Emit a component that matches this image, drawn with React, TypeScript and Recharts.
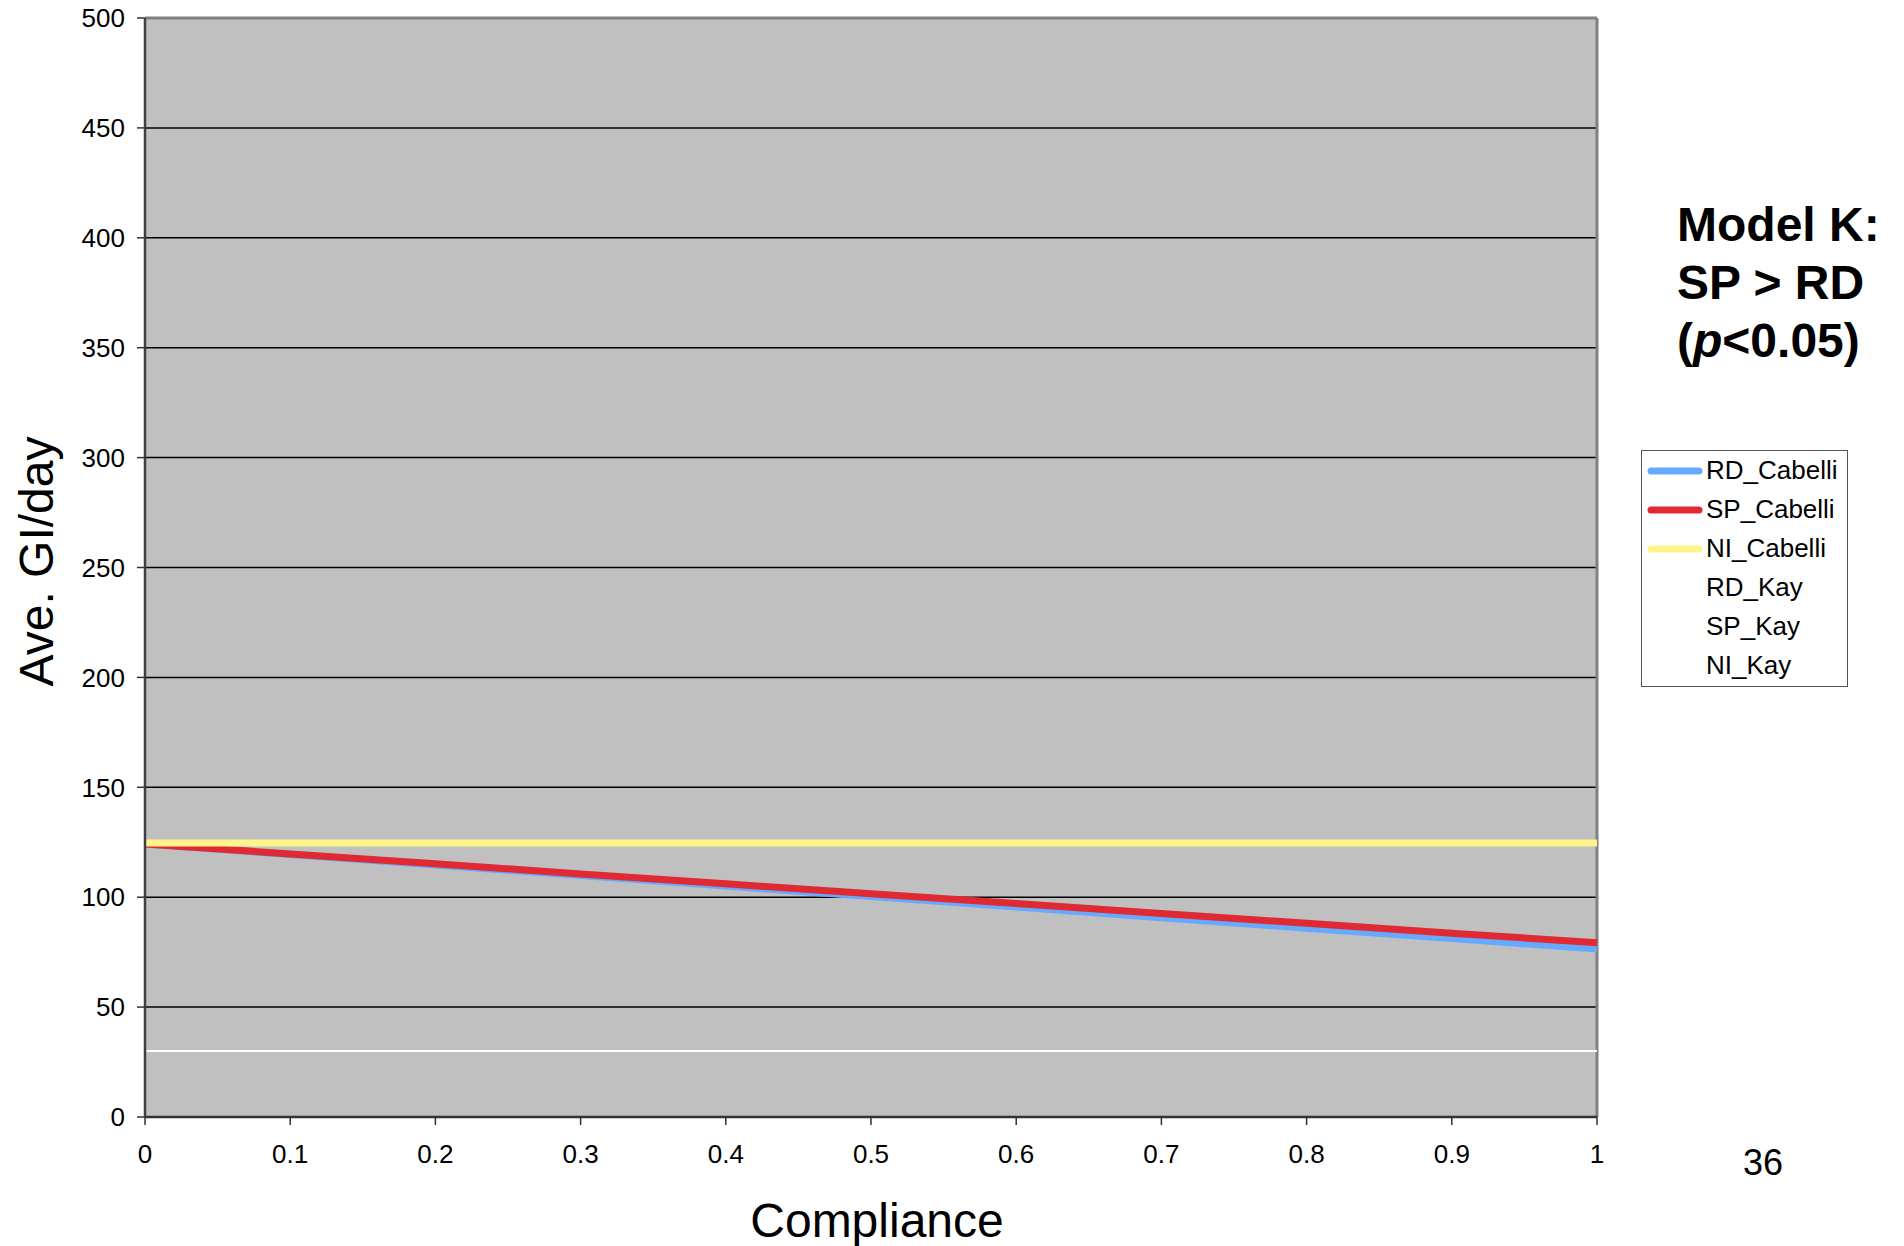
import React from 'react';
import {
  LineChart,
  Line,
  XAxis,
  YAxis,
  CartesianGrid,
  Legend,
  ReferenceLine,
} from 'recharts';

// compliance fraction on the x axis
const compliance = [0, 0.1, 0.2, 0.3, 0.4, 0.5, 0.6, 0.7, 0.8, 0.9, 1];

// average GI per day for each scenario
const rdCabelli = [124.2, 119.4, 114.6, 109.9, 105.1, 100.3, 95.5, 90.7, 85.9, 81.2, 76.4];
const spCabelli = [124.2, 119.7, 115.2, 110.6, 106.1, 101.6, 97.1, 92.6, 88.1, 83.6, 79.3];
const niCabelli = [124.7, 124.7, 124.7, 124.7, 124.7, 124.7, 124.7, 124.7, 124.7, 124.7, 124.7];
const rdKay = [30, 30, 30, 30, 30, 30, 30, 30, 30, 30, 30];
const spKay = [30, 30, 30, 30, 30, 30, 30, 30, 30, 30, 30];
const niKay = [30, 30, 30, 30, 30, 30, 30, 30, 30, 30, 30];

const xTicks = [0, 0.1, 0.2, 0.3, 0.4, 0.5, 0.6, 0.7, 0.8, 0.9, 1];
const yTicks = [0, 50, 100, 150, 200, 250, 300, 350, 400, 450, 500];

const FONT = '"Liberation Sans", Arial, Helvetica, sans-serif';

const data = compliance.map((x, i) => ({
  x,
  RD_Cabelli: rdCabelli[i],
  SP_Cabelli: spCabelli[i],
  NI_Cabelli: niCabelli[i],
  RD_Kay: rdKay[i],
  SP_Kay: spKay[i],
  NI_Kay: niKay[i],
}));

const series = [
  { key: 'RD_Cabelli', color: '#66AAFF', width: 7 },
  { key: 'SP_Cabelli', color: '#DF2A33', width: 7 },
  { key: 'NI_Cabelli', color: '#FFF38A', width: 7 },
  { key: 'RD_Kay', color: '#FFFFFF', width: 1.5 },
  { key: 'SP_Kay', color: '#FFFFFF', width: 1.5 },
  { key: 'NI_Kay', color: '#FFFFFF', width: 1.5 },
];
const seriesOrder = series.map((s) => s.key);

const XTitle = ({ viewBox }: any) => (
  <text
    x={viewBox.x + viewBox.width / 2 + 6}
    y={viewBox.y + 120}
    textAnchor="middle"
    fontSize={48}
    fontFamily={FONT}
    fill="#000"
  >
    Compliance
  </text>
);

const YTitle = ({ viewBox }: any) => {
  const cx = 36;
  const cy = viewBox.y + viewBox.height / 2 - 6;
  return (
    <text
      x={cx}
      y={cy}
      transform={`rotate(-90 ${cx} ${cy})`}
      textAnchor="middle"
      dominantBaseline="central"
      fontSize={48}
      fontFamily={FONT}
      fill="#000"
    >
      Ave. GI/day
    </text>
  );
};

// legend entries kept in series order, not sorted by name
const LegendBox = ({ payload }: any) => {
  const items = [...(payload || [])].sort(
    (a: any, b: any) => seriesOrder.indexOf(a.value) - seriesOrder.indexOf(b.value)
  );
  return (
    <div
      style={{
        width: 205,
        height: 235,
        border: '1px solid #555',
        background: '#fff',
        boxSizing: 'content-box',
        fontFamily: FONT,
        fontSize: 26,
        color: '#000',
      }}
    >
      {items.map((entry: any) => (
        <div key={entry.value} style={{ height: 39, display: 'flex', alignItems: 'center' }}>
          <svg width={64} height={12} style={{ flex: 'none' }}>
            <line x1={9} y1={6} x2={57} y2={6} stroke={entry.color} strokeWidth={7} strokeLinecap="round" />
          </svg>
          <span style={{ whiteSpace: 'nowrap' }}>{entry.value}</span>
        </div>
      ))}
    </div>
  );
};

export default function App() {
  return (
    <div style={{ position: 'absolute', left: 0, top: 0, width: 1904, height: 1246, background: '#fff', fontFamily: FONT }}>
      <LineChart
        width={1904}
        height={1246}
        data={data}
        margin={{ top: 18, right: 307, bottom: 0, left: 0 }}
      >
        <CartesianGrid vertical={false} fill="#C0C0C0" stroke="#000" strokeWidth={1.5} horizontalValues={yTicks} />
        <XAxis
          dataKey="x"
          type="number"
          domain={[0, 1]}
          ticks={xTicks}
          height={129}
          interval={0}
          tickSize={8}
          tickMargin={20}
          axisLine={{ stroke: '#333', strokeWidth: 2.5 }}
          tickLine={{ stroke: '#333', strokeWidth: 1.5 }}
          tick={{ fontSize: 26, fill: '#000', fontFamily: FONT }}
          label={XTitle}
        />
        <YAxis
          type="number"
          domain={[0, 500]}
          ticks={yTicks}
          width={145}
          interval={0}
          tickSize={8}
          tickMargin={12}
          axisLine={{ stroke: '#404040', strokeWidth: 2.5 }}
          tickLine={{ stroke: '#333', strokeWidth: 1.5 }}
          tick={{ fontSize: 26, fill: '#000', fontFamily: FONT }}
          label={YTitle}
        />
        <ReferenceLine y={500} stroke="#808080" strokeWidth={3} />
        <ReferenceLine x={1} stroke="#808080" strokeWidth={3} />
        {series.map((s) => (
          <Line
            key={s.key}
            dataKey={s.key}
            name={s.key}
            type="linear"
            stroke={s.color}
            strokeWidth={s.width}
            dot={false}
            activeDot={false}
            isAnimationActive={false}
          />
        ))}
        <Legend
          content={LegendBox}
          wrapperStyle={{ position: 'absolute', left: 1641, top: 450, width: 0, height: 0, overflow: 'visible' }}
        />
      </LineChart>
      <div
        style={{
          position: 'absolute',
          left: 1677,
          top: 196,
          fontSize: 48,
          lineHeight: '58px',
          fontWeight: 'bold',
          color: '#000',
        }}
      >
        <div>Model K:</div>
        <div>SP &gt; RD</div>
        <div>
          (<i>p</i>&lt;0.05)
        </div>
      </div>
      <div style={{ position: 'absolute', left: 1743, top: 1143, fontSize: 36, lineHeight: '40px', color: '#000' }}>
        36
      </div>
    </div>
  );
}
